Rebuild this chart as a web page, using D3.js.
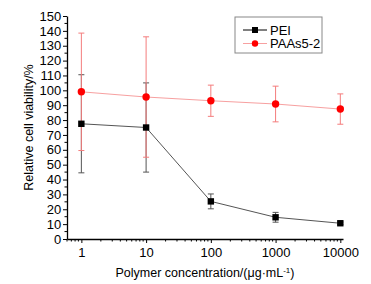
<!DOCTYPE html>
<html>
<head>
<meta charset="utf-8">
<script src="https://cdn.jsdelivr.net/npm/d3@7"></script>
<style>
  body { margin: 0; background: #fff; }
  svg { font-family: "Liberation Sans", Arial, sans-serif; }
</style>
</head>
<body>
<div id="chart"></div>
<script>
// concentrations (ug/mL)
const concentrations = [1, 10, 100, 1000, 10000];
const peiValues = [77.5, 75, 25.3, 14.6, 10.6];
const peiErrors = [33, 30, 5, 3.3, 0.8];
const paasValues = [99, 95.5, 93, 90.8, 87.4];
const paasErrors = [39.5, 40.5, 10.5, 12, 10.2];
const yTicks = d3.range(0, 151, 10);
const xTicks = [1, 10, 100, 1000, 10000];
const seriesNames = ["PEI", "PAAs5-2"];

const width = 371, height = 284;
const margin = { top: 16, right: 28, bottom: 45, left: 67 };

const svg = d3.select("#chart").append("svg")
  .attr("width", width)
  .attr("height", height);

const x = d3.scaleLog()
  .domain([0.6, 11000])
  .range([margin.left, width - margin.right]);

const y = d3.scaleLinear()
  .domain([0, 150])
  .range([height - margin.bottom, margin.top]);

// axes
const xAxis = d3.axisBottom(x).tickValues(xTicks).tickFormat(d3.format("d")).tickSize(4).tickSizeOuter(0);
const gx = svg.append("g")
  .attr("transform", `translate(0, ${y(0)})`)
  .call(xAxis);

// minor x ticks
const minorX = [];
for (let e = -1; e <= 4; e++) {
  for (let m = 2; m <= 9; m++) {
    const v = m * Math.pow(10, e);
    if (v >= 0.6 && v <= 11000) minorX.push(v);
  }
}
gx.selectAll(".minor").data(minorX).join("line")
  .attr("x1", d => x(d)).attr("x2", d => x(d))
  .attr("y1", 0).attr("y2", 2.5)
  .attr("stroke", "#000");

const yAxis = d3.axisLeft(y).tickValues(yTicks).tickSize(4).tickSizeOuter(0);
const gy = svg.append("g")
  .attr("transform", `translate(${margin.left}, 0)`)
  .call(yAxis);

gy.selectAll(".minor").data(d3.range(5, 150, 10)).join("line")
  .attr("x1", 0).attr("x2", -2.5)
  .attr("y1", d => y(d)).attr("y2", d => y(d))
  .attr("stroke", "#000");

svg.selectAll(".domain").attr("stroke", "#000").attr("stroke-width", 1.3);
svg.selectAll(".tick line").attr("stroke", "#000");
svg.selectAll(".tick text")
  .attr("fill", "#000")
  .style("font-size", "13px")
  .style("font-family", "Liberation Sans, Arial, sans-serif");
gx.selectAll(".tick text").attr("dy", "0.85em");
gy.selectAll(".tick text").attr("dx", "0.1em");

// axis labels
svg.append("text")
  .attr("x", (margin.left + width - margin.right) / 2)
  .attr("y", 277)
  .attr("text-anchor", "middle")
  .style("font-size", "12.5px")
  .html("Polymer concentration/(\u03bcg\u00b7mL<tspan dy='-4' font-size='8'>-1</tspan><tspan dy='4'>)</tspan>");

svg.append("text")
  .attr("transform", "rotate(-90)")
  .attr("x", -(margin.top + height - margin.bottom) / 2)
  .attr("y", 33)
  .attr("text-anchor", "middle")
  .style("font-size", "12.5px")
  .text("Relative cell viability/%");

const pei = concentrations.map((c, i) => ({ c, v: peiValues[i], e: peiErrors[i] }));
const paas = concentrations.map((c, i) => ({ c, v: paasValues[i], e: paasErrors[i] }));

function errorBars(data, color, cls) {
  const g = svg.append("g").attr("class", cls).attr("stroke", color).attr("stroke-width", 1);
  g.selectAll(".v").data(data).join("line")
    .attr("x1", d => x(d.c)).attr("x2", d => x(d.c))
    .attr("y1", d => y(d.v - d.e)).attr("y2", d => y(d.v + d.e));
  g.selectAll(".t").data(data).join("line")
    .attr("x1", d => x(d.c) - 3).attr("x2", d => x(d.c) + 3)
    .attr("y1", d => y(d.v + d.e)).attr("y2", d => y(d.v + d.e));
  g.selectAll(".b").data(data).join("line")
    .attr("x1", d => x(d.c) - 3).attr("x2", d => x(d.c) + 3)
    .attr("y1", d => y(d.v - d.e)).attr("y2", d => y(d.v - d.e));
}

errorBars(pei, "#555", "err-pei");
errorBars(paas, "#f47c7c", "err-paas");

const line = d3.line().x(d => x(d.c)).y(d => y(d.v));

svg.append("path").datum(pei)
  .attr("fill", "none").attr("stroke", "#555").attr("stroke-width", 1)
  .attr("d", line);
svg.append("path").datum(paas)
  .attr("fill", "none").attr("stroke", "#f7a0a0").attr("stroke-width", 1)
  .attr("d", line);

svg.selectAll(".sq").data(pei).join("rect")
  .attr("x", d => x(d.c) - 3.2).attr("y", d => y(d.v) - 3.2)
  .attr("width", 6.4).attr("height", 6.4)
  .attr("fill", "#000");
svg.selectAll(".dot").data(paas).join("circle")
  .attr("cx", d => x(d.c)).attr("cy", d => y(d.v))
  .attr("r", 3.7)
  .attr("fill", "#f00");

// legend
const legend = svg.append("g").attr("transform", "translate(235, 17)");
legend.append("rect")
  .attr("width", 87).attr("height", 36)
  .attr("fill", "#fff").attr("stroke", "#888").attr("stroke-width", 1);
seriesNames.forEach((name, i) => {
  const row = legend.append("g").attr("transform", `translate(0, ${13 + i * 13.5})`);
  row.append("line").attr("x1", 8).attr("x2", 32).attr("y1", 0).attr("y2", 0)
    .attr("stroke", i === 0 ? "#000" : "#f7a0a0");
  if (i === 0) {
    row.append("rect").attr("x", 17).attr("y", -3).attr("width", 6).attr("height", 6).attr("fill", "#000");
  } else {
    row.append("circle").attr("cx", 20).attr("cy", 0).attr("r", 3.2).attr("fill", "#f00");
  }
  row.append("text").attr("x", 35).attr("y", 4.5)
    .style("font-size", "13px").text(name);
});
</script>
</body>
</html>
